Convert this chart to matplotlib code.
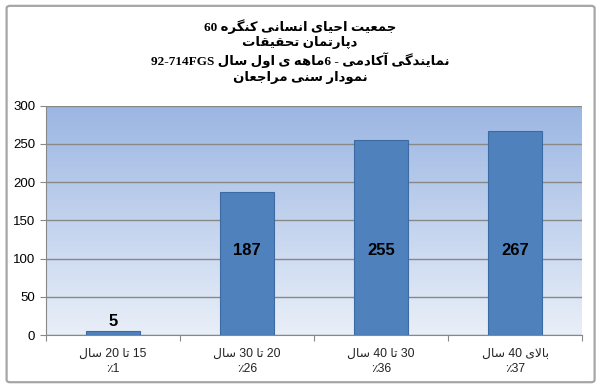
import re
import numpy as np
import matplotlib
matplotlib.use('Agg')
import matplotlib.pyplot as plt
from matplotlib.patches import FancyBboxPatch

# داده‌های نمودار
title_lines = ['جمعیت احیای انسانی کنگره 60',
               'دپارتمان تحقیقات',
               'نمایندگی آکادمی - 6ماهه ی اول سال 92-714FGS',
               'نمودار سنی مراجعان']
categories = ['15 تا 20 سال', '20 تا 30 سال', '30 تا 40 سال', 'بالای 40 سال']
percents = ['1', '26', '36', '37']
values = [5, 187, 255, 267]
y_ticks = [0, 50, 100, 150, 200, 250, 300]

# شکل‌های حروف: (تنها، پایانی، آغازی، میانی) ؛ حروف دوشکلی به بعد وصل نمی‌شوند
FORMS = {
    'ا': (0xFE8D, 0xFE8E), 'آ': (0xFE81, 0xFE82), 'د': (0xFEA9, 0xFEAA),
    'ر': (0xFEAD, 0xFEAE), 'و': (0xFEED, 0xFEEE),
    'ب': (0xFE8F, 0xFE90, 0xFE91, 0xFE92), 'پ': (0xFB56, 0xFB57, 0xFB58, 0xFB59),
    'ت': (0xFE95, 0xFE96, 0xFE97, 0xFE98), 'ج': (0xFE9D, 0xFE9E, 0xFE9F, 0xFEA0),
    'ح': (0xFEA1, 0xFEA2, 0xFEA3, 0xFEA4), 'س': (0xFEB1, 0xFEB2, 0xFEB3, 0xFEB4),
    'ع': (0xFEC9, 0xFECA, 0xFECB, 0xFECC), 'ق': (0xFED5, 0xFED6, 0xFED7, 0xFED8),
    'ک': (0xFB8E, 0xFB8F, 0xFB90, 0xFB91), 'گ': (0xFB92, 0xFB93, 0xFB94, 0xFB95),
    'ل': (0xFEDD, 0xFEDE, 0xFEDF, 0xFEE0), 'م': (0xFEE1, 0xFEE2, 0xFEE3, 0xFEE4),
    'ن': (0xFEE5, 0xFEE6, 0xFEE7, 0xFEE8), 'ه': (0xFEE9, 0xFEEA, 0xFEEB, 0xFEEC),
    'ی': (0xFBFC, 0xFBFD, 0xFBFE, 0xFBFF),
    'ﻻ': (0xFEFB, 0xFEFC),
}


def shape(word):
    word = word.replace('لا', 'ﻻ')
    out = []
    for i, ch in enumerate(word):
        f = FORMS[ch]
        prev_joins = i > 0 and len(FORMS[word[i - 1]]) == 4
        next_exists = i < len(word) - 1
        if len(f) == 4 and next_exists:
            out.append(chr(f[3] if prev_joins else f[2]))
        else:
            out.append(chr(f[1] if prev_joins else f[0]))
    return ''.join(reversed(out))


def rtl(text):
    tokens = []
    for tok in text.split(' '):
        runs = re.findall(r'[\u0600-\u06FF]+|[^\u0600-\u06FF]+', tok)
        tokens.append(''.join(shape(r) if re.match(r'[\u0600-\u06FF]', r) else r
                              for r in reversed(runs)))
    return ' '.join(reversed(tokens))


fig = plt.figure(figsize=(6, 3.9), dpi=100)
fig.patches.append(FancyBboxPatch((0.011, 0.02), 0.98, 0.965,
                                  boxstyle='round,pad=0,rounding_size=0.006',
                                  transform=fig.transFigure, fill=False,
                                  edgecolor='#A6A6A6', linewidth=1.6))

ax = fig.add_axes([0.077, 0.141, 0.893, 0.588])
x = np.arange(len(values))

# پس‌زمینه‌ی گرادیانی
grad = np.linspace(0, 1, 256).reshape(-1, 1)
cmap = matplotlib.colors.LinearSegmentedColormap.from_list('bg', ['#E9EFF8', '#9BB6E3'])
ax.imshow(grad, cmap=cmap, aspect='auto', origin='lower',
          extent=(-0.5, len(values) - 0.5, 0, 300), zorder=0)

ax.bar(x, values, width=0.4, color='#4F81BD', edgecolor='#3C6BA3', linewidth=0.8, zorder=3)
for xi, v in zip(x, values):
    if v > 50:
        ax.text(xi, 110, str(v), ha='center', va='center', fontsize=12,
                fontweight='bold', family=['Liberation Sans'], zorder=4)
    else:
        ax.text(xi, v + 3, str(v), ha='center', va='bottom', fontsize=12,
                fontweight='bold', family=['Liberation Sans'], zorder=4)

ax.set_xlim(-0.5, len(values) - 0.5)
ax.set_ylim(0, 300)
ax.set_yticks(y_ticks)
ax.yaxis.grid(True, color='#888888', linewidth=1)
ax.set_axisbelow(False)
for gl in ax.get_ygridlines():
    gl.set_zorder(1)
ax.tick_params(axis='y', labelsize=9.5, length=4, color='#888888', pad=4)
for lab in ax.get_yticklabels():
    lab.set_family(['Liberation Sans'])

ax.set_xticks(np.arange(len(values) + 1) - 0.5, minor=False)
ax.set_xticklabels([])
ax.tick_params(axis='x', length=4, color='#888888')
ax.set_xticks(x, minor=True)
ax.set_xticklabels([rtl(c) + '\n' + '٪' + p for c, p in zip(categories, percents)],
                   minor=True, fontsize=8.8, family=['Liberation Sans', 'DejaVu Sans'],
                   linespacing=1.4, color='#222222')
ax.tick_params(axis='x', which='minor', length=0, pad=9)

for side in ['top', 'right']:
    ax.spines[side].set_visible(False)
ax.spines['left'].set_color('#888888')
ax.spines['bottom'].set_color('#888888')

fig.text(0.5, 1 - 19 / 390, '\n'.join(rtl(t) for t in title_lines), ha='center', va='top',
         fontsize=9.5, fontweight='bold', family=['Liberation Serif', 'DejaVu Sans'],
         linespacing=1.25)

fig.savefig('out.png', dpi=100)
